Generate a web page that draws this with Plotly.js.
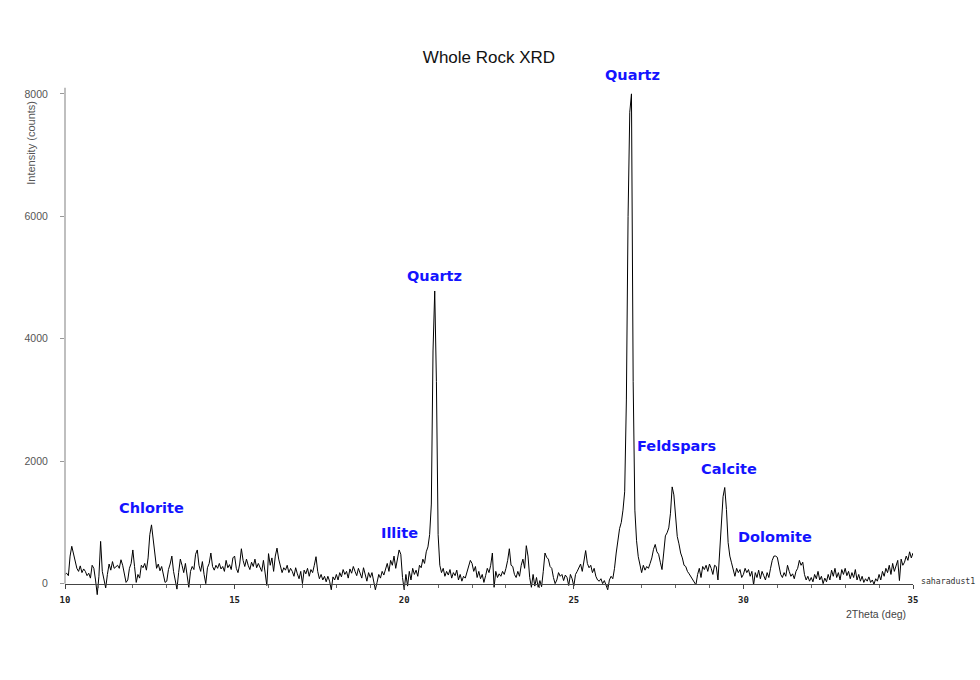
<!DOCTYPE html>
<html>
<head>
<meta charset="utf-8">
<script src="https://cdn.plot.ly/plotly-3.0.1.min.js"></script>
<style>html,body{margin:0;padding:0;background:#fff;}#chart{width:980px;height:680px;}</style>
</head>
<body>
<div id="chart"></div>
<script>
// 2Theta scan: start angle and step (deg)
const thetaStart = 10;
const thetaStep = 0.05;

// Intensity (counts), one row per degree (20 steps of 0.05 deg)
const counts = [
  // 10
  150,170,130,450,610,480,340,250,200,290,180,240,200,130,170,90,300,250,60,-180,
  // 11
  120,690,200,80,-70,150,320,220,360,250,280,300,250,390,300,120,20,60,250,330,
  // 12
  550,280,20,150,90,300,260,330,220,420,800,960,700,430,250,320,210,280,150,20,
  // 13
  40,230,320,450,200,60,-90,180,400,300,180,330,120,-60,200,280,230,480,550,300,
  // 14
  200,360,150,0,260,330,500,280,220,300,250,330,240,280,200,380,260,310,230,420,
  // 15
  450,250,180,320,570,380,280,400,300,230,350,280,400,260,330,250,200,380,150,-30,
  // 16
  490,300,420,200,450,580,400,300,180,260,220,300,180,250,200,120,260,160,80,200,
  // 17
  0,220,160,250,120,230,180,300,440,200,80,150,60,120,30,120,40,-100,110,60,
  // 18
  150,60,180,110,230,150,200,90,240,170,280,200,130,250,180,90,260,150,40,180,
  // 19
  100,180,60,-100,20,150,90,200,140,260,330,200,380,300,450,250,400,550,480,100,
  // 20
  -100,150,-40,200,60,250,150,220,120,300,260,400,330,520,600,800,1300,3800,4780,3300,
  // 21
  800,300,180,250,120,200,140,230,90,180,130,220,60,150,40,120,90,200,320,380,
  // 22
  330,200,280,100,200,80,150,20,130,250,180,300,500,-60,200,100,160,120,200,150,
  // 23
  250,380,570,300,280,150,100,200,120,300,400,250,620,450,100,-60,150,-40,100,-60,
  // 24
  50,-50,200,500,430,400,280,250,100,0,60,180,120,150,50,140,100,-30,150,80,
  // 25
  -40,150,200,250,320,200,400,540,330,260,300,180,250,120,60,40,80,0,50,-30,
  // 26
  -100,60,120,80,250,500,720,900,1000,1200,1500,3000,6000,7700,8000,3300,1200,700,440,300,
  // 27
  180,300,220,280,250,330,420,560,640,520,480,350,230,500,780,830,910,1150,1580,1450,
  // 28
  1045,770,650,500,420,300,280,200,160,120,60,30,-20,150,250,100,280,230,300,200,
  // 29
  320,250,150,300,280,60,550,900,1420,1570,1210,670,450,340,200,120,250,180,230,100,
  // 30
  150,250,180,230,120,200,-20,180,100,220,80,200,130,60,180,100,250,380,450,450,
  // 31
  430,300,150,100,180,120,300,200,120,160,80,200,250,380,300,350,150,60,120,40,
  // 32
  100,30,150,80,200,60,120,0,90,30,150,60,220,120,250,100,180,60,230,150,
  // 33
  250,130,200,80,180,100,230,60,150,40,120,20,80,40,110,20,60,-10,80,40,
  // 34
  150,60,200,120,250,180,300,150,330,200,280,380,50,400,300,350,450,380,520,420,
  // 35
  500
];

// Mineral peak labels: text, 2Theta (deg), counts
const peakNames = ["Chlorite", "Illite", "Quartz", "Quartz", "Feldspars", "Calcite", "Dolomite"];
const peakTheta = [12.54, 19.87, 20.9, 26.72, 28.04, 29.57, 30.93];
const peakCounts = [1240, 830, 5030, 8300, 2254, 1878, 760];

const xTicks = [10, 15, 20, 25, 30, 35];
const yTicks = [0, 2000, 4000, 6000, 8000];

const trace = {
  type: 'scatter',
  mode: 'lines',
  x0: thetaStart,
  dx: thetaStep,
  y: counts,
  line: {color: '#000', width: 1},
  hoverinfo: 'skip'
};

const annotations = peakNames.map((t, i) => ({
  text: t, x: peakTheta[i], y: peakCounts[i], xref: 'x', yref: 'y',
  showarrow: false, xanchor: 'center', yanchor: 'middle',
  font: {family: 'DejaVu Sans', size: 14.5, color: 'rgb(20,20,255)', weight: 'bold'}
}));

annotations.push({
  text: 'Intensity (counts)', xref: 'paper', yref: 'paper', x: -0.0401, y: 0.8334,
  textangle: -90, showarrow: false, xanchor: 'center', yanchor: 'middle',
  font: {family: 'Liberation Sans', size: 11, color: '#555'}
});
annotations.push({
  text: '2Theta (deg)', xref: 'paper', yref: 'paper', x: 0.9941, y: -0.021,
  showarrow: false, xanchor: 'right', yanchor: 'middle',
  font: {family: 'Liberation Sans', size: 10.5, color: '#444'}
});
annotations.push({
  text: 'saharadust1', xref: 'paper', yref: 'paper', x: 1.0071, y: 0.0388,
  showarrow: false, xanchor: 'left', yanchor: 'middle',
  font: {family: 'DejaVu Sans Mono', size: 8.2, color: '#333'}
});

const layout = {
  width: 980, height: 680,
  paper_bgcolor: '#fff', plot_bgcolor: '#fff',
  margin: {l: 65, r: 67, t: 51.1, b: 77.6, pad: 0},
  showlegend: false,
  hovermode: false,
  title: {
    text: 'Whole Rock XRD', x: 0.5, xref: 'paper', y: 1 - 57.5 / 680, yref: 'container',
    xanchor: 'center', yanchor: 'middle',
    font: {family: 'Liberation Sans', size: 17, color: '#111'}
  },
  xaxis: {
    range: [10, 35], anchor: 'free', position: 300 / 9000,
    showline: true, linecolor: '#444', linewidth: 1.5,
    showgrid: false, zeroline: false,
    tickmode: 'array', tickvals: xTicks, ticktext: xTicks.map(String),
    ticks: 'outside', ticklen: 4, tickcolor: '#444', tickwidth: 1,
    minor: {dtick: 1, ticks: 'outside', ticklen: 3, tickcolor: '#666', tickwidth: 1},
    ticklabelstandoff: 3,
    tickfont: {family: 'DejaVu Sans Mono', size: 9, color: '#222', weight: 'bold'}
  },
  yaxis: {
    range: [-300, 8700],
    showline: false, showgrid: false, zeroline: false,
    tickmode: 'array', tickvals: yTicks, ticktext: yTicks.map(String),
    ticks: 'outside', ticklen: 4, tickcolor: '#999', tickwidth: 1,
    ticklabelstandoff: 10,
    tickfont: {family: 'Liberation Sans', size: 10.5, color: '#555'}
  },
  shapes: [{
    type: 'line', xref: 'paper', x0: 0, x1: 0, yref: 'y', y0: 0, y1: 8100,
    line: {color: '#aaa', width: 1.5}
  }],
  annotations: annotations
};

Plotly.newPlot('chart', [trace], layout, {displayModeBar: false, staticPlot: true});
</script>
</body>
</html>
